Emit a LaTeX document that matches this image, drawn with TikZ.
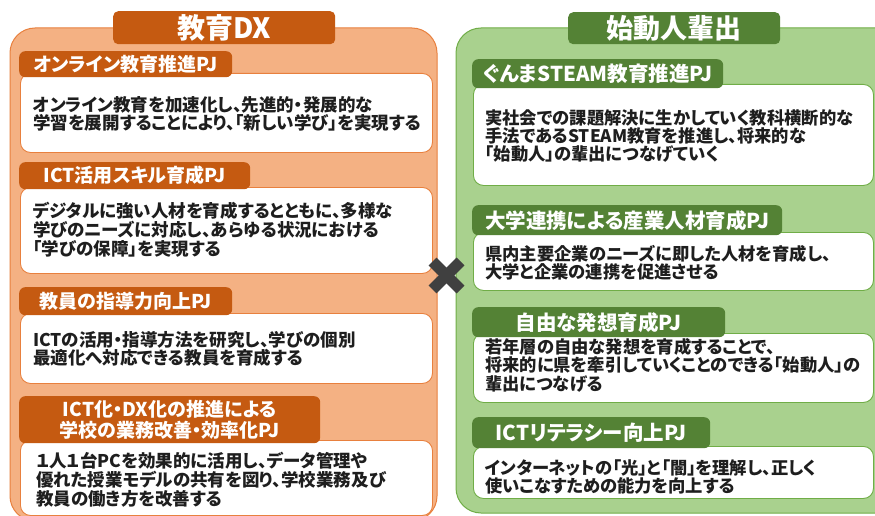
\documentclass[tikz,border=0pt]{standalone}
\usepackage{fontspec}
\setmainfont{Noto Sans CJK JP}[RawFeature=+palt]
\definecolor{oPanel}{HTML}{F4B183}
\definecolor{oLine}{HTML}{E8803E}
\definecolor{oDark}{HTML}{C55A11}
\definecolor{gPanel}{HTML}{A9D18E}
\definecolor{gLine}{HTML}{70AD47}
\definecolor{gDark}{HTML}{548235}
\definecolor{txt}{HTML}{1E1E1E}
\definecolor{xgray}{HTML}{404040}
\begin{document}
\begin{tikzpicture}[x=1pt,y=-1pt,
  panelL/.style={fill=oPanel,draw=oLine,line width=1pt,rounded corners=25pt},
  panelR/.style={fill=gPanel,draw=gLine,line width=1pt,rounded corners=25pt},
  titleL/.style={fill=oDark,rounded corners=5pt,text=white,font=\bfseries\fontsize{28}{30}\selectfont,inner sep=0pt,anchor=north west},
  titleR/.style={titleL,fill=gDark,font=\bfseries\fontsize{27}{30}\selectfont},
  boxL/.style={fill=white,draw=oLine,line width=0.9pt,rounded corners=10pt,inner sep=0pt,anchor=north west},
  boxR/.style={boxL,draw=gLine},
  labL/.style={fill=oDark,rounded corners=6pt,text=white,font=\bfseries\fontsize{19}{21}\selectfont,inner sep=0pt,anchor=north west,align=center},
  labR/.style={labL,fill=gDark,font=\bfseries\fontsize{20.5}{22}\selectfont},
  txtL/.style={align=left,inner sep=0pt,anchor=west,text=txt,font=\bfseries\fontsize{17.5}{18.8}\selectfont},
  txtR/.style={txtL,font=\bfseries\fontsize{17.3}{18.4}\selectfont},
  xmark/.style={draw=xgray,line width=11pt,line cap=butt}
]
\useasboundingbox (0,0) rectangle (875,516);
\clip (0,0) rectangle (875,516);
\fill[white] (0,0) rectangle (875,516);

% panels
\draw[panelL] (10,28) rectangle (437,521);
\draw[panelR] (456,28) rectangle (900,513);

% titles
\node[titleL,minimum width=222pt,minimum height=33pt] (tiL) at (113,11) {教育DX};
\node[titleR,minimum width=212pt,minimum height=32pt] (tiR) at (568,12) {始動人輩出};

% left boxes
\node[boxL,minimum width=412pt,minimum height=79pt] (bL1) at (20,73) {};
\node[labL,minimum width=213pt,minimum height=26pt] (lL1) at (19,51) {オンライン教育推進PJ};
\node[txtL] (tL1) at (33,114) {オンライン教育を加速化し、先進的・発展的な\\学習を展開することにより、「新しい学び」を実現する};

\node[boxL,minimum width=412pt,minimum height=86pt] (bL2) at (20,187) {};
\node[labL,minimum width=231pt,minimum height=27pt] (lL2) at (19,162) {ICT活用スキル育成PJ};
\node[txtL] (tL2) at (33,230) {デジタルに強い人材を育成するとともに、多様な\\学びのニーズに対応し、あらゆる状況における\\「学びの保障」を実現する};

\node[boxL,minimum width=412pt,minimum height=70pt] (bL3) at (20,313) {};
\node[labL,minimum width=213pt,minimum height=28pt] (lL3) at (19,287) {教員の指導力向上PJ};
\node[txtL] (tL3) at (33,349) {ICTの活用・指導方法を研究し、学びの個別\\最適化へ対応できる教員を育成する};

\node[boxL,minimum width=412pt,minimum height=75pt] (bL4) at (20,440) {};
\node[labL,minimum width=301pt,minimum height=47pt] (lL4) at (19,396) {ICT化・DX化の推進による\\学校の業務改善・効率化PJ};
\node[txtL] (tL4) at (36,480) {１人１台PCを効果的に活用し、データ管理や\\優れた授業モデルの共有を図り、学校業務及び\\教員の働き方を改善する};

% right boxes
\node[boxR,minimum width=400pt,minimum height=101pt] (bR1) at (473,84) {};
\node[labR,minimum width=251pt,minimum height=29pt] (lR1) at (472,59) {ぐんまSTEAM教育推進PJ};
\node[txtR] (tR1) at (485,136) {実社会での課題解決に生かしていく教科横断的な\\手法であるSTEAM教育を推進し、将来的な\\「始動人」の輩出につなげていく};

\node[boxR,minimum width=400pt,minimum height=58pt] (bR2) at (473,232) {};
\node[labR,minimum width=310pt,minimum height=30pt] (lR2) at (472,205) {大学連携による産業人材育成PJ};
\node[txtR] (tR2) at (485,263) {県内主要企業のニーズに即した人材を育成し、\\大学と企業の連携を促進させる};

\node[boxR,minimum width=400pt,minimum height=69pt] (bR3) at (473,333) {};
\node[labR,minimum width=253pt,minimum height=30pt] (lR3) at (472,307) {自由な発想育成PJ};
\node[txtR] (tR3) at (485,365) {若年層の自由な発想を育成することで、\\将来的に県を牽引していくことのできる「始動人」の\\輩出につなげる};

\node[boxR,minimum width=400pt,minimum height=52pt] (bR4) at (473,446) {};
\node[labR,minimum width=238pt,minimum height=31pt] (lR4) at (472,417) {ICTリテラシー向上PJ};
\node[txtR] (tR4) at (485,477) {インターネットの「光」と「闇」を理解し、正しく\\使いこなすための能力を向上する};

% cross mark
\draw[xmark] (432.5,261.5) -- (460.5,289.5);
\draw[xmark] (460.5,261.5) -- (432.5,289.5);
\end{tikzpicture}
\end{document}
